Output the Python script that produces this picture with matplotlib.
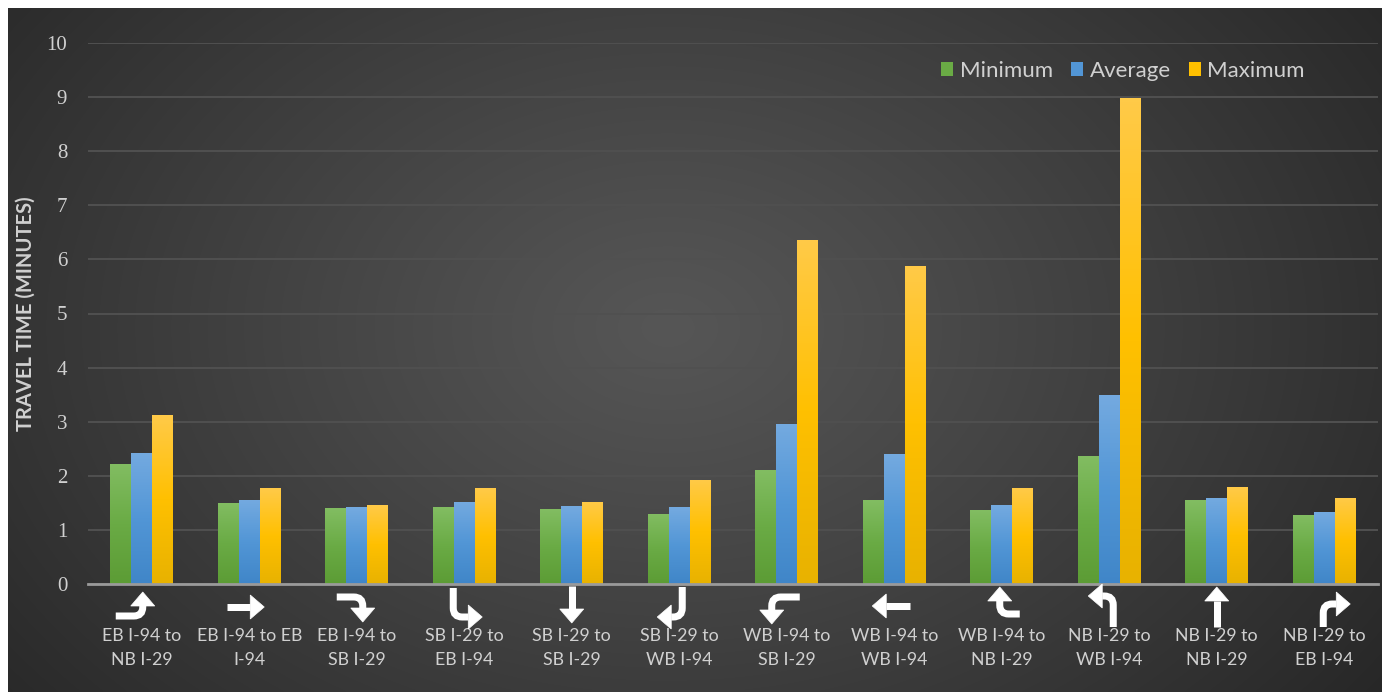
import numpy as np
import matplotlib
matplotlib.use("Agg")
import matplotlib.pyplot as plt
import matplotlib.transforms as mtransforms
from matplotlib.path import Path
from matplotlib.patches import PathPatch, Polygon, Rectangle
from matplotlib.colors import LinearSegmentedColormap

# ---- data -------------------------------------------------------------
movements = [
    "EB I-94 to\nNB I-29", "EB I-94 to EB\nI-94", "EB I-94 to\nSB I-29",
    "SB I-29 to\nEB I-94", "SB I-29 to\nSB I-29", "SB I-29 to\nWB I-94",
    "WB I-94 to\nSB I-29", "WB I-94 to\nWB I-94", "WB I-94 to\nNB I-29",
    "NB I-29 to\nWB I-94", "NB I-29 to\nNB I-29", "NB I-29 to\nEB I-94",
]
minimum = [2.22, 1.50, 1.40, 1.42, 1.38, 1.30, 2.10, 1.55, 1.36, 2.37, 1.55, 1.28]
average = [2.43, 1.56, 1.42, 1.52, 1.44, 1.42, 2.96, 2.40, 1.46, 3.49, 1.59, 1.34]
maximum = [3.12, 1.77, 1.46, 1.77, 1.52, 1.93, 6.36, 5.88, 1.77, 8.98, 1.79, 1.59]
series_names = ["Minimum", "Average", "Maximum"]
y_ticks = list(range(0, 11))

# turn-movement glyphs: shaft points in pixels (x right, y down from the baseline)
turn_glyphs = [
    [(-26, 32), (1, 32), (1, 22)],
    [(-22, 23), (1, 23)],
    [(-20, 13), (6, 13), (6, 24)],
    [(-11, 4), (-11, 33), (4, 33)],
    [(0, 2), (0, 25)],
    [(3, 3), (3, 33), (-8, 33)],
    [(13, 13), (-15, 13), (-15, 26)],
    [(16, 22), (-8, 22)],
    [(18, 30), (-2, 30), (-2, 17)],
    [(4, 43), (4, 12), (-7, 12)],
    [(0, 43), (0, 17)],
    [(-1, 43), (-1, 20), (12, 20)],
]

# ---- styling ----------------------------------------------------------
W, H, DPI = 1391, 692, 100
TEXT = "#d0d0d0"
grads = {
    "Minimum": ["#82bd62", "#6aab45", "#5c9c35"],
    "Average": ["#74aae0", "#5296d6", "#4086c8"],
    "Maximum": ["#ffca48", "#ffc000", "#e8b200"],
}
solid = {"Minimum": "#6aab45", "Average": "#5296d6", "Maximum": "#ffc000"}

fig = plt.figure(figsize=(W / DPI, H / DPI), dpi=DPI, facecolor="white")

# dark panel with a soft radial highlight
px0, py0, px1, py1 = 8, 0, 1382, 684   # panel in pixels (y from bottom)
bg = fig.add_axes([px0 / W, py0 / H, (px1 - px0) / W, (py1 - py0) / H], zorder=0)
gx, gy = np.meshgrid(np.linspace(0, px1 - px0, 700), np.linspace(0, py1 - py0, 350))
cx, cy = 660, 684 - 320
r = np.sqrt(((gx - cx) / 900) ** 2 + ((gy - cy) / 640) ** 2)
r = np.clip(r, 0, 1)
c_in, c_out = np.array([0x56, 0x56, 0x56]) / 255, np.array([0x26, 0x26, 0x26]) / 255
t = r[..., None] ** 1.1
img = c_in * (1 - t) + c_out * t
bg.imshow(img, origin="lower", aspect="auto", extent=[0, 1, 0, 1], interpolation="bicubic")
bg.set_axis_off()

ax_l, ax_r = 88, 1378
y_base, y_top = 692 - 584, 692 - 43
ax = fig.add_axes([ax_l / W, y_base / H, (ax_r - ax_l) / W, (y_top - y_base) / H], zorder=1)
ax.set_facecolor("none")

n = len(movements)
x = np.arange(n)
bw = 0.195
offsets = [-bw, 0, bw]
values = [minimum, average, maximum]

for name, vals, off in zip(series_names, values, offsets):
    bars = ax.bar(x + off, vals, width=bw, color=solid[name], label=name, zorder=3,
                  linewidth=0)
    cmap = LinearSegmentedColormap.from_list(name, grads[name][::-1])
    for b in bars:
        xb, wb, hb = b.get_x(), b.get_width(), b.get_height()
        g = np.linspace(0, 1, 128)[:, None]
        im = ax.imshow(g, cmap=cmap, origin="lower", aspect="auto",
                       extent=[xb, xb + wb, 0, hb], zorder=4, interpolation="bilinear")
        im.set_clip_path(b)

ax.set_xlim(-0.5, n - 0.5)
ax.set_ylim(0, 10)
ax.set_yticks(y_ticks)
ax.yaxis.grid(True, color="#505050", linewidth=1.4, zorder=1)
ax.set_axisbelow(True)
for s in ["top", "right", "left"]:
    ax.spines[s].set_visible(False)
ax.spines["bottom"].set_color("#9a9a9a")
ax.spines["bottom"].set_linewidth(2.0)
ax.spines["bottom"].set_zorder(5)

ax.tick_params(axis="y", length=0, pad=15, labelcolor=TEXT, labelsize=15)
for lab in ax.get_yticklabels():
    lab.set_fontfamily("Liberation Serif")
ax.set_xticks(x)
ax.set_xticklabels(movements, fontsize=12.8, color=TEXT, family="Lato", linespacing=1.55)
ax.tick_params(axis="x", length=0, pad=32)

ax.set_ylabel("TRAVEL TIME (MINUTES)", fontsize=14.5, fontweight="bold", color=TEXT,
              family="Lato", labelpad=8)

# turn-movement arrows under each category
def draw_turn(ax, xc, pts, head_len=14, head_half=12, radius=9, lw_px=7):
    pts = [np.array(p, float) for p in pts]
    if len(pts) == 3:
        p0, p1, p2 = pts
        a = p1 + radius * (p0 - p1) / np.linalg.norm(p0 - p1)
        b = p1 + radius * (p2 - p1) / np.linalg.norm(p2 - p1)
        verts = [p0, a, p1, b, p2]
        codes = [Path.MOVETO, Path.LINETO, Path.CURVE3, Path.CURVE3, Path.LINETO]
    else:
        verts = pts
        codes = [Path.MOVETO, Path.LINETO]
    end, prev = pts[-1], pts[-2]
    d = (end - prev) / np.linalg.norm(end - prev)
    perp = np.array([-d[1], d[0]])
    tip = end + head_len * d
    head = [end + head_half * perp, tip, end - head_half * perp]
    tr = (mtransforms.Affine2D().scale(1 / fig.dpi, -1 / fig.dpi) + fig.dpi_scale_trans
          + mtransforms.ScaledTranslation(xc, 0, ax.transData))
    ax.add_patch(PathPatch(Path(verts, codes), fill=False, edgecolor="white",
                           linewidth=lw_px * 72 / fig.dpi, capstyle="butt",
                           joinstyle="miter", transform=tr, clip_on=False, zorder=6))
    ax.add_patch(Polygon(head, closed=True, facecolor="white", edgecolor="white",
                         linewidth=0.5, transform=tr, clip_on=False, zorder=6))

for xi, pts in zip(x, turn_glyphs):
    draw_turn(ax, xi, pts)

handles = [Rectangle((0, 0), 1, 1, facecolor=solid[nm], edgecolor="none") for nm in series_names]
leg = ax.legend(handles, series_names, loc="upper right", bbox_to_anchor=(0.9434, 0.967),
                ncol=3, frameon=False, handlelength=0.55, handleheight=0.55,
                handletextpad=0.3, columnspacing=0.8, borderaxespad=0, borderpad=0,
                prop={"family": "Lato", "size": 16})
for tx in leg.get_texts():
    tx.set_color(TEXT)

fig.savefig("out.png", dpi=DPI, facecolor="white")
